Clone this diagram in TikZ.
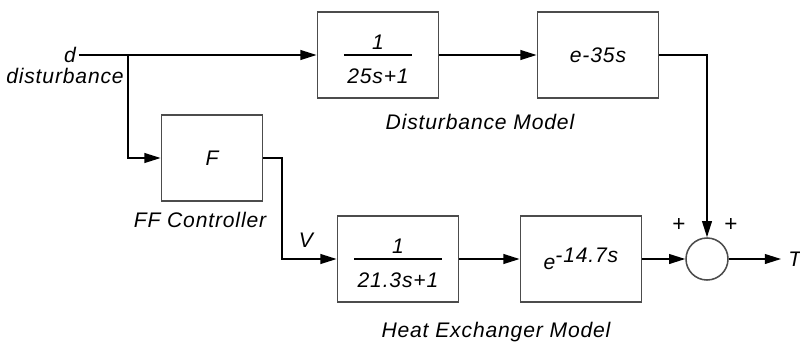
\documentclass[tikz,border=0pt]{standalone}
\usepackage{fontspec}
\setmainfont{Liberation Sans}[LetterSpace=4]
\usetikzlibrary{arrows.meta}
\setlength\arrayrulewidth{1pt}

\begin{document}
\begin{tikzpicture}[
  x=0.025cm, y=-0.025cm,
  font=\itshape\fontsize{15}{17}\selectfont,
  blk/.style={draw=black!70, line width=1.3pt, minimum width=3.025cm, minimum height=2.15cm, inner sep=0pt},
  sumnode/.style={circle, draw=black!70, line width=1.1pt, minimum size=1.05cm, inner sep=0pt},
  lbl/.style={inner sep=0pt},
  edge/.style={draw=black, line width=1pt},
  arr/.style={edge, -{Triangle[length=11.5pt, width=7pt]}}
]
\useasboundingbox (0,0) rectangle (800,343);
\node[blk] (dist1) at (378,55) {\begin{tabular}{@{\,}c@{\,}}\rule{0pt}{22pt}1\\[-2pt]\hline\rule{0pt}{20pt}25s+1\end{tabular}};
\node[blk] (dist2) at (598,55) {e-35s};
\node[blk, minimum width=2.525cm] (ff) at (212,158) {F};
\node[blk] (hx1) at (398,259) {\begin{tabular}{@{\,}c@{\,}}\rule{0pt}{22pt}1\\[-2pt]\hline\rule{0pt}{20pt}21.3s+1\end{tabular}};
\node[blk] (hx2) at (581,259) {e\raisebox{0.3em}{-14.7s}};
\node[sumnode] (sum) at (707,259) {};
\node[lbl, inner sep=2pt] (dlab) at (70,55) {d};
\node[lbl] (dtxt) at (65,76) {disturbance};
\node[lbl] (distlab) at (480,122) {Disturbance Model};
\node[lbl] (fflab) at (200,220) {FF Controller};
\node[lbl] (hxlab) at (496,332) {Heat Exchanger Model};
\node[lbl] (vlab) at (306,240) {V};
\node[lbl, font=\upshape\fontsize{16}{17}\selectfont] (plusa) at (679,225) {+};
\node[lbl, font=\upshape\fontsize{16}{17}\selectfont] (plusb) at (731,225) {+};
\node[lbl, anchor=west, inner xsep=5pt] (tout) at (781,259) {T};
\coordinate (split) at (128,55);
\coordinate (vturn) at (282,259);
\draw[arr] (dlab.east) -- (dist1.west);
\draw[arr] (split) |- (ff.west);
\draw[arr] (dist1.east) -- (dist2.west);
\draw[arr] (dist2.east) -| (sum.north);
\draw[arr] (ff.east) -| (vturn) -- (hx1.west);
\draw[arr] (hx1.east) -- (hx2.west);
\draw[arr] (hx2.east) -- (sum.west);
\draw[arr] (sum.east) -- (tout.west);
\end{tikzpicture}
\end{document}
